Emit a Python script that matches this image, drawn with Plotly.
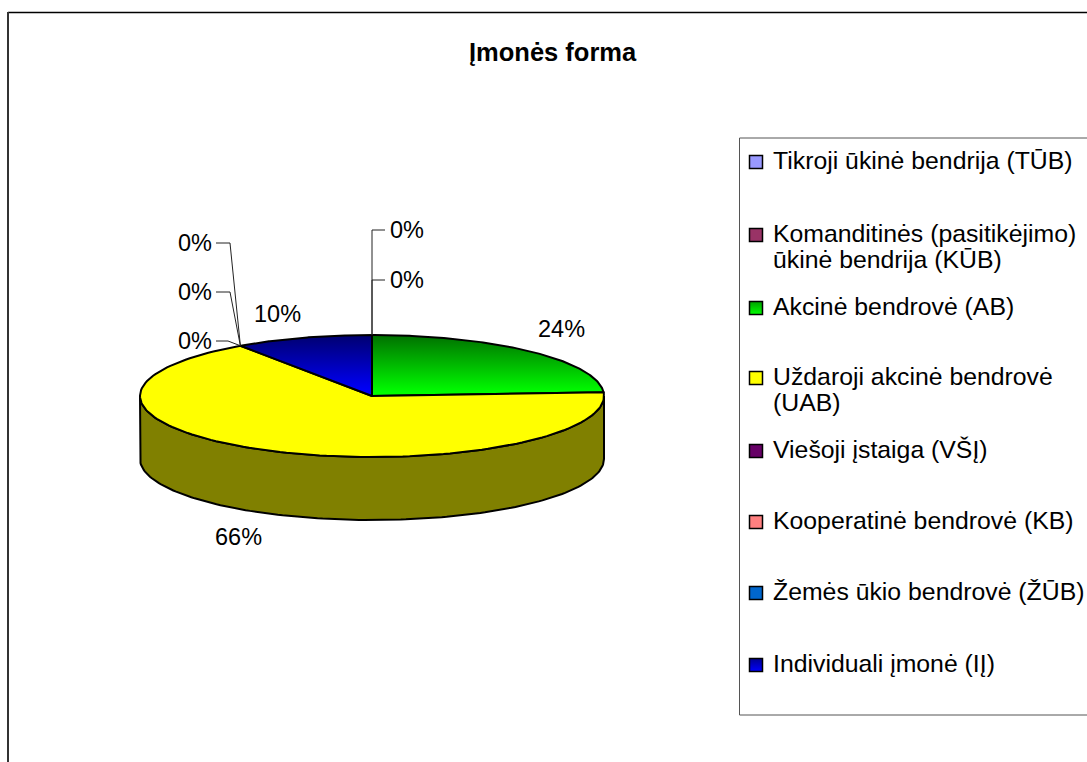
import numpy as np
import plotly.graph_objects as go

CATEGORIES = ["Tikroji ūkinė bendrija (TŪB)", "Komanditinės (pasitikėjimo)<br>ūkinė bendrija (KŪB)",
              "Akcinė bendrovė (AB)", "Uždaroji akcinė bendrovė<br>(UAB)", "Viešoji įstaiga (VŠĮ)",
              "Kooperatinė bendrovė (KB)", "Žemės ūkio bendrovė (ŽŪB)", "Individuali įmonė (IĮ)"]
SHARES = [0, 0, 24, 66.4, 0, 0, 0, 9.6]
PERCENT_LABELS = ["0%", "0%", "24%", "66%", "0%", "0%", "0%", "10%"]
TITLE = "Įmonės forma"

# style / layout
COLORS = ["#9999FF", "#993366", "#00FF00", "#FFFF00", "#660066", "#FF8080", "#0066CC", "#0000FF"]
DARK = {2: "#007000", 7: "#000070"}
WALL = {2: "#008000", 3: "#808000"}
CX, CY, RX, RY, DEPTH = 372, 396, 232, 61, 63
LEGEND_ROWS = [160, 233, 306, 376, 449, 520, 591, 663]
LINE_GAP = 26
LABEL_POS = [(407, 230), (407, 280), (561, 329), (238, 537), (195, 341), (195, 292), (195, 243), (277, 314)]
LEADER_ELBOW = {0: [(372, 230), (385, 230)], 1: [(372, 280), (385, 280)],
                4: [(228, 341), (216, 341)], 5: [(230, 292), (216, 292)], 6: [(230, 243), (216, 243)]}
FONT = "Liberation Sans, Arial, sans-serif"
FS = 23.5
FS_LEG = 24.8


def pt(angle_deg, dy=0):
    a = np.radians(angle_deg)
    return CX + RX * np.sin(a), CY - RY * np.cos(a) + dy


fig = go.Figure()
cum = np.cumsum([0] + SHARES) * 3.6

# side walls (front half only)
for i, v in enumerate(SHARES):
    a0, a1 = cum[i], cum[i + 1]
    lo, hi = max(a0, 90), min(a1, 270)
    if v == 0 or hi <= lo:
        continue
    t = np.linspace(lo, hi, 140)
    tx, ty = pt(t)
    bx, by = pt(t[::-1], DEPTH)
    fig.add_trace(go.Scatter(x=np.r_[tx, bx, tx[0]], y=np.r_[ty, by, ty[0]], mode="lines", fill="toself",
                             fillcolor=WALL.get(i, COLORS[i]), line=dict(color="black", width=2),
                             hoverinfo="skip", showlegend=False))

# top faces
for i, v in enumerate(SHARES):
    if v == 0:
        continue
    t = np.linspace(cum[i], cum[i + 1], 140)
    ex, ey = pt(t)
    x = np.r_[CX, ex, CX]
    y = np.r_[CY, ey, CY]
    kw = dict(fillcolor=COLORS[i])
    if i in DARK:
        kw = dict(fillgradient=dict(type="vertical", start=CY - RY, stop=CY - 3,
                                    colorscale=[[0, DARK[i]], [1, COLORS[i]]]))
    fig.add_trace(go.Scatter(x=x, y=y, mode="lines", fill="toself", line=dict(color="black", width=2),
                             name=CATEGORIES[i].replace("<br>", " "), showlegend=False,
                             text=PERCENT_LABELS[i], hoverinfo="name+text", **kw))

# leader lines for empty slices
for i, elbow in LEADER_ELBOW.items():
    a = cum[i]
    sx, sy = pt(a)
    fig.add_trace(go.Scatter(x=[sx] + [p[0] for p in elbow], y=[sy] + [p[1] for p in elbow], mode="lines",
                             line=dict(color="#222222", width=1), hoverinfo="skip", showlegend=False))

# legend swatches
for i, row in enumerate(LEGEND_ROWS):
    m = dict(symbol="square", size=13, color=COLORS[i], line=dict(color="black", width=1.5))
    if i in DARK:
        m = dict(symbol="square", size=13, color="#00A000" if i == 2 else "#000090",
                 gradient=dict(type="vertical", color=COLORS[i]), line=dict(color="black", width=1.5))
    fig.add_trace(go.Scatter(x=[756], y=[row + 2], mode="markers", marker=m, hoverinfo="skip", showlegend=False))

ann = [dict(x=553, y=52, text="<b>%s</b>" % TITLE, showarrow=False, font=dict(family=FONT, size=25.5, color="black"))]
for lab, (x, y) in zip(PERCENT_LABELS, LABEL_POS):
    ann.append(dict(x=x, y=y, text=lab, showarrow=False, font=dict(family=FONT, size=FS, color="black")))
for cat, row in zip(CATEGORIES, LEGEND_ROWS):
    for k, line in enumerate(cat.split("<br>")):
        ann.append(dict(x=771, y=row + k * LINE_GAP, text=line, showarrow=False, xanchor="left", yanchor="middle",
                        align="left", font=dict(family=FONT, size=FS_LEG, color="black")))

shapes = [
    dict(type="line", x0=8, x1=1087, y0=12.5, y1=12.5, line=dict(color="black", width=1.5)),
    dict(type="line", x0=8, x1=8, y0=12, y1=762, line=dict(color="#333333", width=2)),
    dict(type="rect", x0=739.5, x1=1100, y0=138, y1=715, line=dict(color="#555555", width=1)),
]

fig.update_layout(width=1087, height=762, margin=dict(l=0, r=0, t=0, b=0), paper_bgcolor="white",
                  plot_bgcolor="white", annotations=ann, shapes=shapes, showlegend=False,
                  xaxis=dict(range=[0, 1087], visible=False, fixedrange=True),
                  yaxis=dict(range=[762, 0], visible=False, fixedrange=True))
fig.write_html("out.html", config=dict(displayModeBar=False),
               post_script="document.body.style.margin='0';document.body.style.overflow='hidden';")
